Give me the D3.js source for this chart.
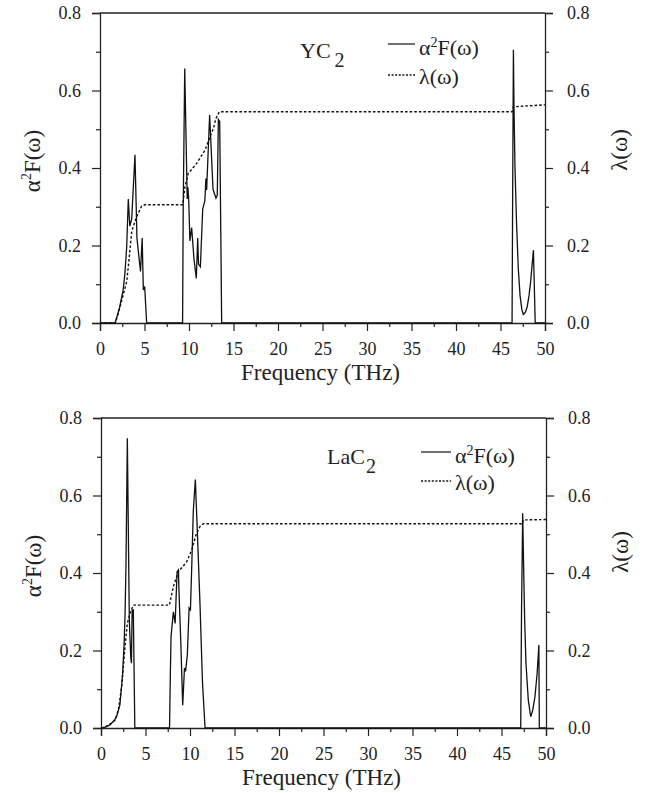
<!DOCTYPE html>
<html>
<head>
<meta charset="utf-8">
<script src="https://cdn.jsdelivr.net/npm/d3@7"></script>
<style>
  html, body { margin: 0; padding: 0; background: #fff; }
</style>
</head>
<body>
<svg id="chart" width="650" height="793"></svg>
<script>
// ---------------- DATA ----------------
const freqTicks = [0, 5, 10, 15, 20, 25, 30, 35, 40, 45, 50];
const valueTicks = [0.0, 0.2, 0.4, 0.6, 0.8];

// YC2 : [frequency (THz), alpha^2 F(omega)]
const yc2Alpha2F = [
  [0, 0], [1.7, 0], [2.2, 0.04], [2.6, 0.085], [2.8, 0.128], [3.0, 0.197], [3.18, 0.32],
  [3.35, 0.25], [3.56, 0.268], [3.93, 0.434], [4.15, 0.22], [4.35, 0.175], [4.55, 0.133],
  [4.74, 0.219], [4.87, 0.085], [5.02, 0.094], [5.24, 0],
  [9.28, 0], [9.35, 0.3], [9.52, 0.657], [9.8, 0.32], [9.88, 0.35], [9.97, 0.317],
  [10.1, 0.212], [10.3, 0.246], [10.56, 0.165], [10.82, 0.115], [10.98, 0.219],
  [11.07, 0.152], [11.28, 0.145], [11.54, 0.294], [11.78, 0.315], [11.9, 0.373],
  [11.98, 0.343], [12.32, 0.537], [12.7, 0.345], [13.03, 0.322], [13.18, 0.33],
  [13.3, 0.525], [13.45, 0.52], [13.67, 0],
  [46.3, 0], [46.36, 0.3], [46.45, 0.705], [46.52, 0.55], [46.63, 0.4], [46.8, 0.26],
  [47.0, 0.14], [47.2, 0.07], [47.4, 0.035], [47.56, 0.022], [47.8, 0.028], [48.0, 0.042],
  [48.2, 0.07], [48.4, 0.11], [48.55, 0.15], [48.7, 0.188], [48.9, 0], [50, 0]
];
// YC2 : [frequency (THz), lambda(omega)]
const yc2Lambda = [
  [0, 0], [1.7, 0], [2.0, 0.02], [2.43, 0.057], [3.0, 0.107], [3.2, 0.15], [3.37, 0.19],
  [3.56, 0.235], [3.75, 0.25], [4.12, 0.274], [4.68, 0.302], [5.06, 0.305], [9.29, 0.305],
  [9.55, 0.352], [9.92, 0.386], [10.86, 0.412], [11.8, 0.446], [12.36, 0.481],
  [12.74, 0.502], [13.03, 0.528], [13.4, 0.545], [46.3, 0.545], [46.45, 0.558], [50, 0.563]
];

// LaC2 : [frequency (THz), alpha^2 F(omega)]
const lac2Alpha2F = [
  [0, 0], [0.5, 0.002], [1.0, 0.008], [1.5, 0.02], [1.76, 0.03], [2.13, 0.06], [2.43, 0.14],
  [2.6, 0.22], [2.7, 0.29], [2.81, 0.425], [2.96, 0.748], [3.18, 0.279], [3.34, 0.184],
  [3.42, 0.167], [3.5, 0.305], [3.63, 0.305], [3.8, 0],
  [7.7, 0], [7.8, 0.15], [7.87, 0.236], [8.13, 0.3], [8.33, 0.27], [8.55, 0.403],
  [8.7, 0.408], [8.75, 0.36], [8.97, 0.22], [9.18, 0.059], [9.38, 0.155], [9.5, 0.146],
  [9.7, 0.188], [9.9, 0.31], [10.05, 0.305], [10.2, 0.42], [10.37, 0.56], [10.6, 0.641],
  [10.82, 0.51], [11.12, 0.322], [11.4, 0.12], [11.69, 0],
  [47.16, 0], [47.25, 0.3], [47.38, 0.554], [47.5, 0.4], [47.6, 0.28], [47.75, 0.167],
  [48.01, 0.072], [48.28, 0.029], [48.5, 0.045], [48.76, 0.081], [49.0, 0.14],
  [49.2, 0.214], [49.25, 0], [50, 0]
];
// LaC2 : [frequency (THz), lambda(omega)]
const lac2Lambda = [
  [0, 0], [0.5, 0.003], [0.82, 0.008], [1.2, 0.013], [1.57, 0.02], [1.95, 0.046],
  [2.32, 0.107], [2.7, 0.21], [2.96, 0.27], [3.26, 0.296], [3.63, 0.317], [7.68, 0.317],
  [8.13, 0.365], [8.69, 0.403], [9.63, 0.429], [10.19, 0.459], [10.67, 0.498],
  [11.12, 0.52], [11.5, 0.527], [47.38, 0.527], [47.45, 0.537], [50, 0.538]
];

// ---------------- LAYOUT ----------------
const FONT = "'Liberation Serif', 'Times New Roman', Times, serif";
const svg = d3.select("#chart");
const AX = "#222";

const panels = [
  { left: 100, right: 545, top: 13, bottom: 323, a2f: yc2Alpha2F, lam: yc2Lambda,
    compound: "YC", compX: 300, compY: 58, subDx: 4,
    legX: 388, legLen: 27, legY1: 44, legY2: 75, legTextDy: 11,
    leftTitleY: 161, rightTitleY: 150 },
  { left: 101, right: 546, top: 418, bottom: 728, a2f: lac2Alpha2F, lam: lac2Lambda,
    compound: "LaC", compX: 327, compY: 464, subDx: 1,
    legX: 421, legLen: 30, legY1: 452, legY2: 481, legTextDy: 11,
    leftTitleY: 566, rightTitleY: 552 }
];

function styleText(sel, size) {
  sel.style("font-family", FONT).style("font-size", size).style("fill", "#222");
}

panels.forEach(p => {
  const x = d3.scaleLinear().domain([0, 50]).range([p.left, p.right]);
  const y = d3.scaleLinear().domain([0, 0.8]).range([p.bottom, p.top]);
  const g = svg.append("g");

  // top frame line
  g.append("line").attr("x1", p.left).attr("x2", p.right)
    .attr("y1", p.top).attr("y2", p.top)
    .attr("stroke", AX).attr("stroke-width", 1.3);

  // x axis
  const xMinor = d3.range(0, 50.01, 2.5).filter(v => v % 5 !== 0);
  g.append("g").attr("transform", `translate(0,${p.bottom})`)
    .call(d3.axisBottom(x).tickValues(xMinor).tickSize(4).tickFormat(""))
    .call(a => a.select(".domain").remove());
  const xa = g.append("g").attr("transform", `translate(0,${p.bottom})`)
    .call(d3.axisBottom(x).tickValues(freqTicks).tickSize(8).tickPadding(11)
      .tickFormat(d3.format("d")));
  styleText(xa.selectAll("text"), "18px");

  // left axis
  const yMinor = [0.1, 0.3, 0.5, 0.7];
  g.append("g").attr("transform", `translate(${p.left},0)`)
    .call(d3.axisLeft(y).tickValues(yMinor).tickSize(4).tickFormat(""))
    .call(a => a.select(".domain").remove());
  const la = g.append("g").attr("transform", `translate(${p.left},0)`)
    .call(d3.axisLeft(y).tickValues(valueTicks).tickSize(8).tickPadding(11)
      .tickFormat(d3.format(".1f")));
  styleText(la.selectAll("text"), "18px");

  // right axis
  g.append("g").attr("transform", `translate(${p.right},0)`)
    .call(d3.axisRight(y).tickValues(yMinor).tickSize(4).tickFormat(""))
    .call(a => a.select(".domain").remove());
  const ra = g.append("g").attr("transform", `translate(${p.right},0)`)
    .call(d3.axisRight(y).tickValues(valueTicks).tickSize(8).tickPadding(14)
      .tickFormat(d3.format(".1f")));
  styleText(ra.selectAll("text"), "18px");

  g.selectAll(".domain").attr("stroke", AX).attr("stroke-width", 1.3);
  g.selectAll(".tick line").attr("stroke", AX).attr("stroke-width", 1.2);

  // curves
  const line = d3.line().x(d => x(d[0])).y(d => y(d[1]));
  g.append("path").datum(p.lam).attr("d", line)
    .attr("fill", "none").attr("stroke", "#111").attr("stroke-width", 1.4)
    .attr("stroke-dasharray", "2.6,2");
  g.append("path").datum(p.a2f).attr("d", line)
    .attr("fill", "none").attr("stroke", "#111").attr("stroke-width", 1.3)
    .attr("stroke-linejoin", "miter");

  // x title
  const xt = g.append("text").attr("x", (p.left + p.right) / 2 - 2).attr("y", p.bottom + 57)
    .attr("text-anchor", "middle").text("Frequency (THz)");
  styleText(xt, "23px");

  // left title
  const lt = g.append("text")
    .attr("transform", `translate(${p.left - 60},${p.leftTitleY}) rotate(-90)`)
    .attr("text-anchor", "middle");
  styleText(lt, "23px");
  lt.append("tspan").text("\u03B1");
  lt.append("tspan").attr("dy", -9).attr("dx", 0).style("font-size", "14px").text("2");
  lt.append("tspan").attr("dy", 9).text("F(\u03C9)");

  // right title
  const rt = g.append("text")
    .attr("transform", `translate(${p.right + 82},${p.rightTitleY}) rotate(-90)`)
    .attr("text-anchor", "middle").text("\u03BB(\u03C9)");
  styleText(rt, "23px");

  // compound label
  const ct = g.append("text").attr("x", p.compX).attr("y", p.compY);
  styleText(ct, "22px");
  ct.append("tspan").text(p.compound);
  ct.append("tspan").attr("dx", p.subDx).attr("dy", 9).style("font-size", "20px").text("2");

  // legend
  g.append("line").attr("x1", p.legX).attr("x2", p.legX + p.legLen)
    .attr("y1", p.legY1).attr("y2", p.legY1).attr("stroke", "#111").attr("stroke-width", 1.2);
  g.append("line").attr("x1", p.legX).attr("x2", p.legX + p.legLen)
    .attr("y1", p.legY2).attr("y2", p.legY2).attr("stroke", "#111").attr("stroke-width", 1.4)
    .attr("stroke-dasharray", "2,1.6");
  const l1 = g.append("text").attr("x", p.legX + p.legLen + 4).attr("y", p.legY1 + p.legTextDy);
  styleText(l1, "22px");
  l1.append("tspan").text("\u03B1");
  l1.append("tspan").attr("dy", -8).attr("dx", 0).style("font-size", "14px").text("2");
  l1.append("tspan").attr("dy", 8).text("F(\u03C9)");
  const l2 = g.append("text").attr("x", p.legX + p.legLen + 4).attr("y", p.legY2 + p.legTextDy - 2)
    .text("\u03BB(\u03C9)");
  styleText(l2, "22px");
});
</script>
</body>
</html>
